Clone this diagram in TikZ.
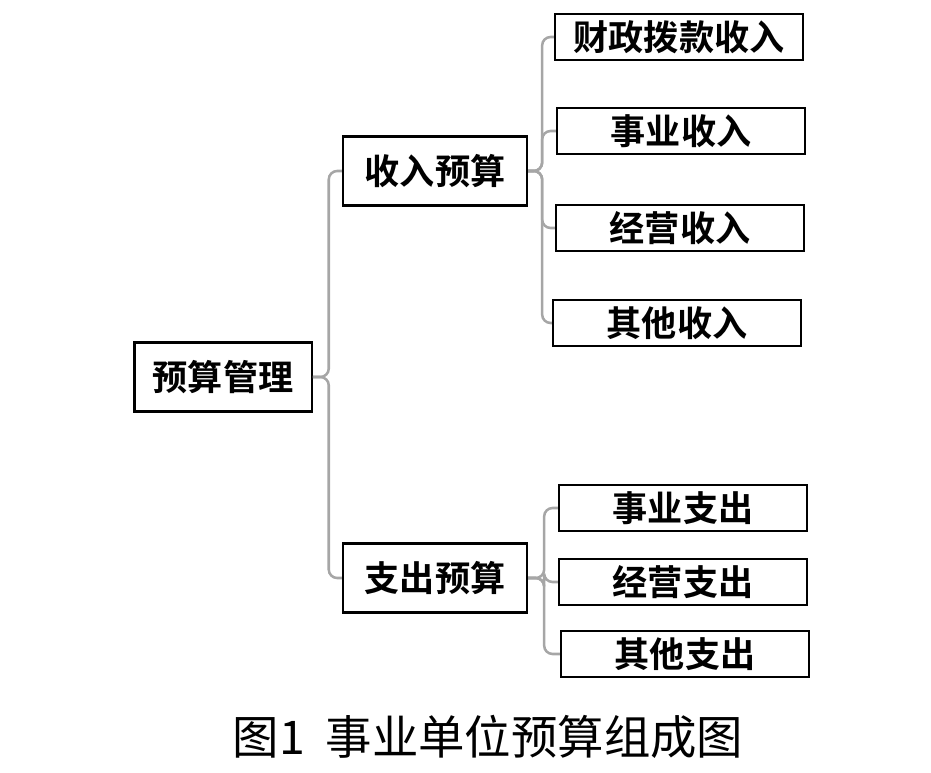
\documentclass[tikz,border=0pt]{standalone}
\usepackage{fontspec}
\setmainfont{Noto Sans CJK SC}
\newfontfamily\boldcjk{Noto Sans CJK SC Bold}
\begin{document}
\begin{tikzpicture}[x=0.025cm,y=-0.025cm,
    box/.style={draw=black, line width=1.6pt, font=\boldcjk\fontsize{25}{25}\selectfont, inner sep=0pt},
    leaf/.style={box, minimum width=6.2cm, minimum height=1.15cm},
    mid/.style={box, minimum width=4.6cm, minimum height=1.72cm},
    conn/.style={draw=gray!70, line width=1.8pt, rounded corners=6pt}]
    \useasboundingbox (0,0) rectangle (931,773);

    % root and second level
    \node[mid, minimum width=4.43cm] (root) at (223,377) {预算管理};
    \node[mid] (inc) at (435,171) {收入预算};
    \node[mid] (exp) at (435,578) {支出预算};

    % income items
    \node[leaf] (inc1) at (679,37) {财政拨款收入};
    \node[leaf] (inc2) at (681,131) {事业收入};
    \node[leaf] (inc3) at (680,228) {经营收入};
    \node[leaf] (inc4) at (677,323) {其他收入};

    % expense items
    \node[leaf] (exp1) at (683,508) {事业支出};
    \node[leaf] (exp2) at (683,582) {经营支出};
    \node[leaf] (exp3) at (685,654) {其他支出};

    % connectors
    \foreach \c in {inc,exp}
        \draw[conn] (root.east) -- ++(16,0) |- (\c.west);
    \foreach \c in {inc1,inc2,inc3,inc4}
        \draw[conn] (inc.east) -- ++(14,0) |- (\c.west);
    \foreach \c in {exp1,exp2,exp3}
        \draw[conn] (exp.east) -- ++(16,0) |- (\c.west);

    \node[font=\fontsize{33}{33}\selectfont] (cap) at (488,737) {图1\ \ 事业单位预算组成图};
\end{tikzpicture}
\end{document}
